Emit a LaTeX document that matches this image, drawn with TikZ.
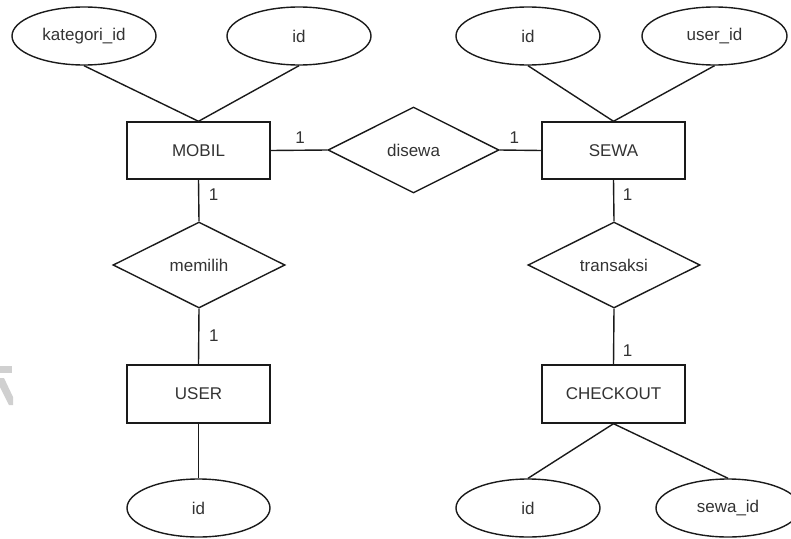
\documentclass[tikz,border=0pt]{standalone}
\usepackage{fontspec}
\setmainfont{Liberation Sans}
\usetikzlibrary{shapes.geometric}
\definecolor{inkline}{HTML}{1A1A1A}
\definecolor{inktext}{HTML}{333333}
\definecolor{markgray}{HTML}{D0D0D0}
\begin{document}
\begin{tikzpicture}[x=1pt,y=-1pt,
  every node/.style={font=\fontsize{17}{20}\selectfont, text=inktext, inner sep=0pt},
  entity/.style={draw=inkline, line width=1.4pt, rectangle, minimum width=143pt, minimum height=57pt},
  attrib/.style={draw=inkline, line width=1.4pt, ellipse, minimum width=144pt, minimum height=58pt},
  relation/.style={draw=inkline, line width=1.4pt, diamond, aspect=2, minimum width=172pt, minimum height=86pt},
  link/.style={draw=inkline, line width=1.4pt},
  card/.style={font=\fontsize{17}{20}\selectfont}]
\useasboundingbox (0,0) rectangle (791,538);

% faint mark on the left margin
\fill[markgray] (0,366) -- (12,366) -- (12,373) -- (0,373) -- cycle;
\fill[markgray] (0,378) -- (4,378) -- (13,397) -- (13,405) -- (9,405) -- (0,387) -- cycle;

% entities
\node[entity] (mobil) at (198.5,150.5) {MOBIL};
\node[entity] (sewa) at (613.5,150.5) {SEWA};
\node[entity, minimum height=58pt] (user) at (198.5,394) {USER};
\node[entity, minimum height=58pt] (checkout) at (613.5,394) {CHECKOUT};

% relationships
\node[relation, minimum width=171pt] (disewa) at (413.5,150) {disewa};
\node[relation] (memilih) at (199,265) {memilih};
\node[relation] (transaksi) at (614,265) {transaksi};

% attributes
\node[attrib] (katid) at (84,36) {kategori\_id};
\node[attrib] (mobilid) at (299,36) {id};
\node[attrib] (sewaid) at (528,36) {id};
\node[attrib, minimum width=145pt] (userfk) at (714.5,36) {user\_id};
\node[attrib, minimum width=143pt] (userid) at (198.5,508) {id};
\node[attrib] (checkid) at (528,508) {id};
\node[attrib] (sewafk) at (728,508) {sewa\_id};

% attribute links
\draw[link] (katid.south) -- (mobil.north);
\draw[link] (mobilid.south) -- (mobil.north);
\draw[link] (sewaid.south) -- (sewa.north);
\draw[link] (userfk.south) -- (sewa.north);
\draw[link] (user.south) -- (userid.north);
\draw[link] (checkout.south) -- (checkid.north);
\draw[link] (checkout.south) -- (sewafk.north);

% relationship links with cardinalities
\draw[link] (mobil.east) -- node[card, pos=0.52, yshift=13pt] {1} (disewa.west);
\draw[link] (disewa.east) -- node[card, pos=0.35, yshift=13pt] {1} (sewa.west);
\draw[link] (mobil.south) -- node[card, pos=0.35, xshift=15pt] {1} (memilih.north);
\draw[link] (memilih.south) -- node[card, pos=0.49, xshift=15pt] {1} (user.north);
\draw[link] (sewa.south) -- node[card, pos=0.35, xshift=14pt] {1} (transaksi.north);
\draw[link] (transaksi.south) -- node[card, pos=0.75, xshift=14pt] {1} (checkout.north);
\end{tikzpicture}
\end{document}
